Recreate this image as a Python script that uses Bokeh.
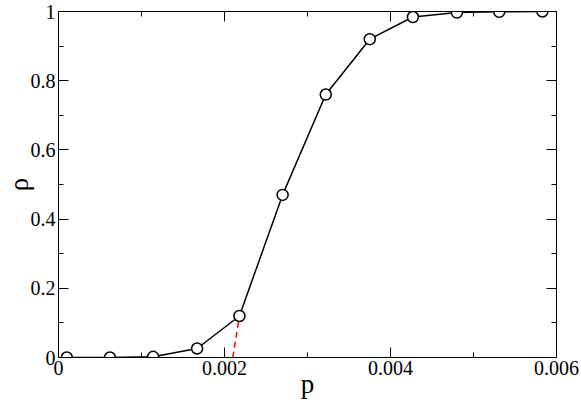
from bokeh.plotting import figure
from bokeh.models import FixedTicker, LinearAxis, Range1d
from bokeh.embed import file_html
from bokeh.resources import INLINE

# data
p_vals = [0.0001, 0.00062, 0.00114, 0.00167, 0.00218, 0.0027, 0.00322, 0.00375, 0.00427, 0.0048, 0.00531, 0.00583]
rho_vals = [0.0, 0.0, 0.002, 0.026, 0.12, 0.47, 0.76, 0.92, 0.984, 0.997, 0.999, 1.0]
fit_p = [0.0021, 0.00218]
fit_rho = [0.0, 0.12]

x_major = [0, 0.002, 0.004, 0.006]
x_minor = [0.001, 0.003, 0.005]
y_major = [0, 0.2, 0.4, 0.6, 0.8, 1.0]
y_minor = [0.1, 0.3, 0.5, 0.7, 0.9]
x_labels = {0: "0", 0.002: "0.002", 0.004: "0.004", 0.006: "0.006"}
y_labels = {0: "0", 0.2: "0.2", 0.4: "0.4", 0.6: "0.6", 0.8: "0.8", 1.0: "1"}
x_title = "p"
y_title = "ρ"

FONT = "Liberation Serif"

p = figure(width=581, height=403, output_backend="svg", toolbar_location=None,
           x_range=Range1d(0, 0.006), y_range=Range1d(0, 1),
           min_border_left=57, min_border_right=25, min_border_top=11, min_border_bottom=46)
p.grid.visible = False
p.background_fill_color = "white"
p.border_fill_color = "white"
p.outline_line_color = "black"
p.outline_line_width = 1

def style(ax, ticks, minor, labels, show):
    ax.ticker = FixedTicker(ticks=ticks, minor_ticks=minor)
    ax.axis_line_color = "black"
    ax.major_tick_in = 10
    ax.major_tick_out = 0
    ax.minor_tick_in = 5
    ax.minor_tick_out = 0
    ax.major_tick_line_color = "black"
    ax.minor_tick_line_color = "black"
    if show:
        ax.major_label_overrides = labels
        ax.major_label_text_font = FONT
        ax.major_label_text_font_size = "20px"
        ax.major_label_text_color = "black"
        ax.major_label_standoff = 3
    else:
        ax.major_label_overrides = {k: "" for k in labels}
        ax.major_label_standoff = 0

style(p.xaxis[0], x_major, x_minor, x_labels, True)
style(p.yaxis[0], y_major, y_minor, y_labels, True)
p.xaxis[0].axis_label = x_title
p.yaxis[0].axis_label = y_title
for ax in (p.xaxis[0], p.yaxis[0]):
    ax.axis_label_text_font = FONT
    ax.axis_label_text_font_size = "27px"
    ax.axis_label_text_font_style = "normal"
    ax.axis_label_text_color = "black"
p.xaxis[0].axis_label_standoff = -9
p.yaxis[0].axis_label_standoff = -6

top = LinearAxis()
style(top, x_major, x_minor, x_labels, False)
p.add_layout(top, "above")
right = LinearAxis()
style(right, y_major, y_minor, y_labels, False)
p.add_layout(right, "right")

p.line(fit_p, fit_rho, line_color="red", line_width=1.5, line_dash="6 4")
p.line(p_vals, rho_vals, line_color="black", line_width=1.5)
p.scatter(p_vals, rho_vals, marker="circle", size=11, fill_color="white",
          line_color="black", line_width=1.5)

open("out.html", "w").write(file_html(p, INLINE))
